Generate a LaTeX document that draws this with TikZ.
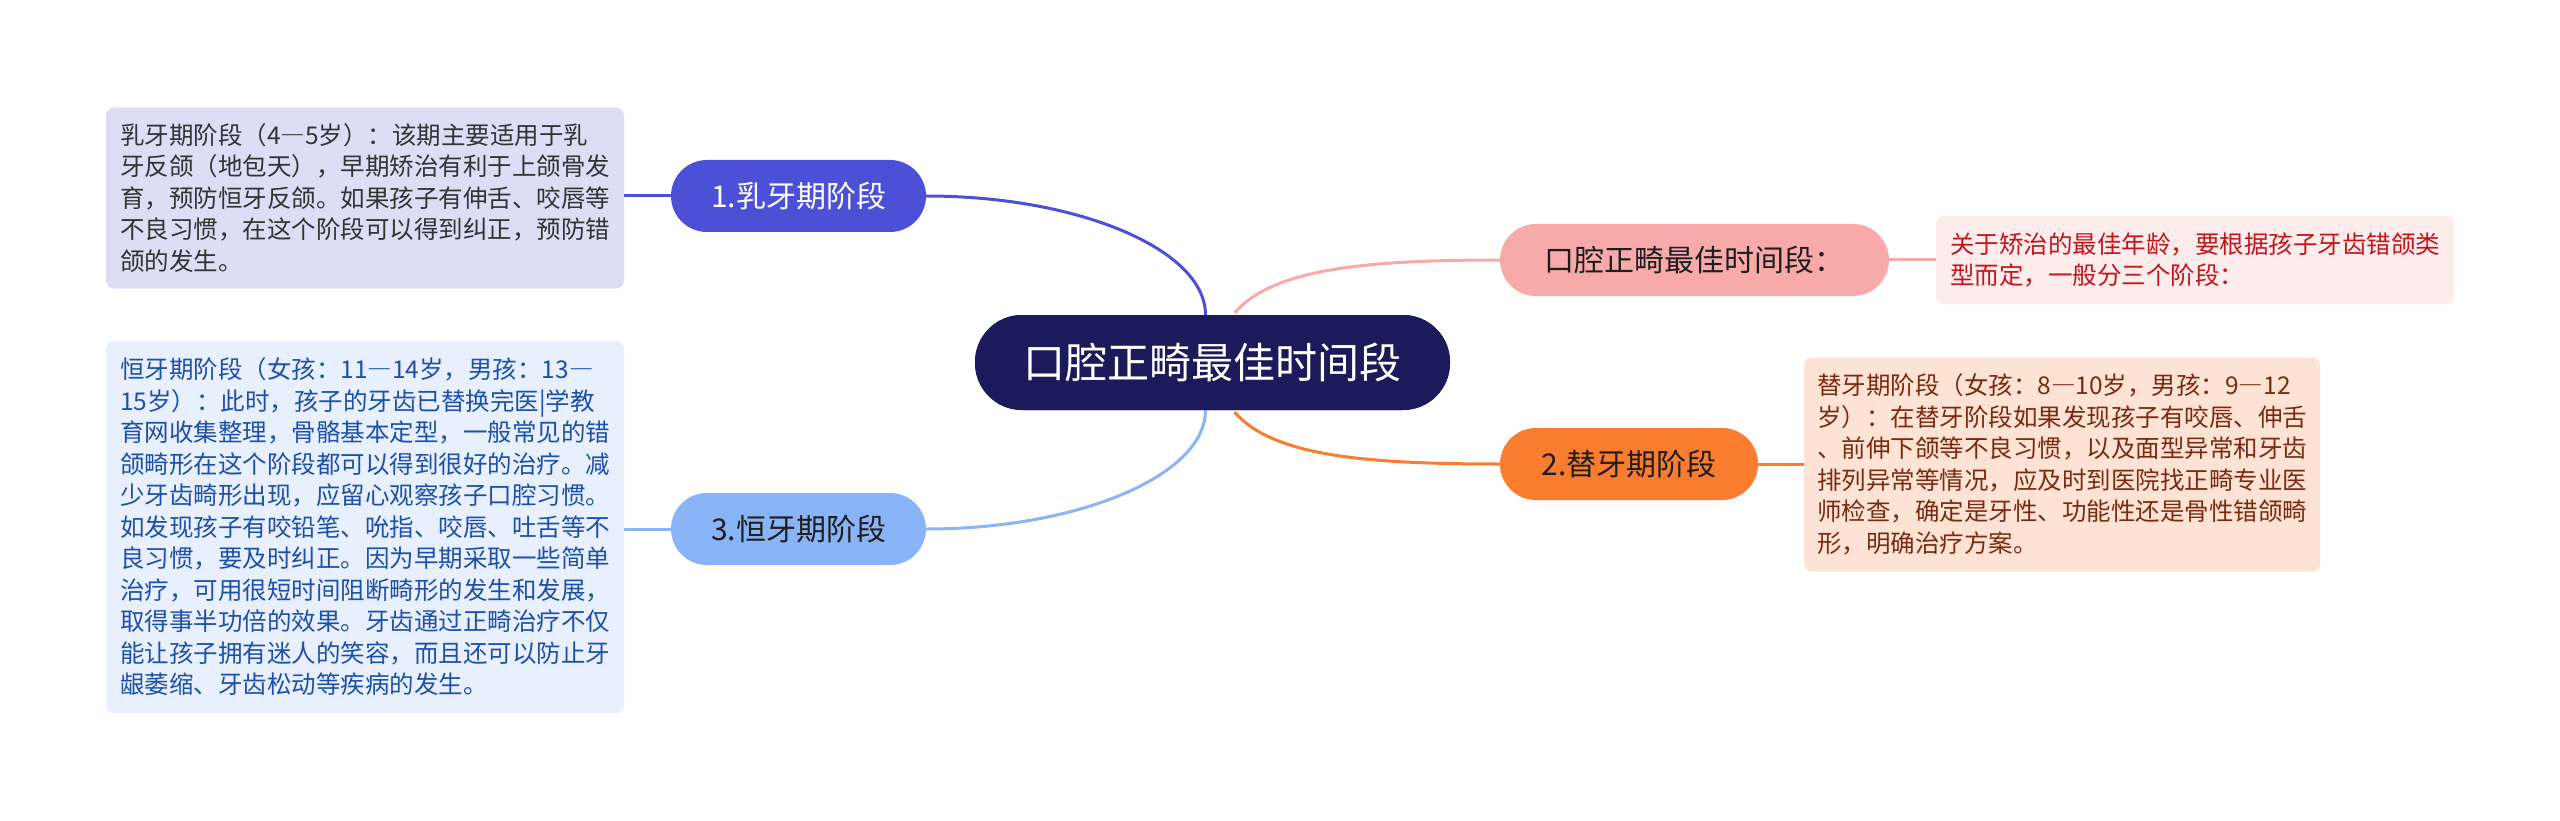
\documentclass[tikz,border=0pt]{standalone}
\usepackage{fontspec}
\setmainfont{Noto Sans CJK SC}
\usetikzlibrary{calc}
\newcommand\fwdash{{\addfontfeature{RawFeature=+fwid}—}}
\definecolor{cnavy}{RGB}{27,26,90}
\definecolor{cviolet}{RGB}{75,80,214}
\definecolor{clblue}{RGB}{138,180,248}
\definecolor{cpink}{RGB}{248,170,170}
\definecolor{corange}{RGB}{249,124,47}
\definecolor{fviolet}{RGB}{221,221,246}
\definecolor{flblue}{RGB}{232,240,253}
\definecolor{fpink}{RGB}{253,236,236}
\definecolor{forange}{RGB}{253,227,212}
\definecolor{tgray}{RGB}{51,51,51}
\definecolor{tblue}{RGB}{30,80,170}
\definecolor{tred}{RGB}{192,22,28}
\definecolor{tbrown}{RGB}{122,42,18}
\definecolor{tdark}{RGB}{30,30,30}
\begin{document}
\begin{tikzpicture}[x=1pt,y=1pt,
  leaf/.style={draw=none, rounded corners=8pt, align=left, inner sep=0pt,
    font=\fontsize{24.5}{31.5}\selectfont, minimum width=518pt},
  branch/.style={rounded corners=36pt, minimum height=72pt, inner sep=0pt,
    font=\fontsize{30}{36}\selectfont},
  hub/.style={fill=cnavy, text=white, rounded corners=47pt, minimum width=475pt,
    minimum height=95pt, inner sep=0pt, font=\fontsize{42}{50}\selectfont},
  link/.style={line width=3pt}
]
\useasboundingbox (0,0) rectangle (2560,-821);
\fill[white] (0,0) rectangle (2560,-821);

% central
\node[hub] (c) at (1212.5,-362.5) {口腔正畸最佳时间段};

% branches
\node[branch, fill=cviolet, text=white, minimum width=255pt] (b1) at (798.5,-196) {1.乳牙期阶段};
\node[branch, fill=clblue, text=tdark, minimum width=255pt] (b3) at (798.5,-529) {3.恒牙期阶段};
\node[branch, fill=cpink, text=tdark, minimum width=389pt] (bp) at (1694.5,-260) {口腔正畸最佳时间段：};
\node[branch, fill=corange, text=tdark, minimum width=258pt] (b2) at (1629,-464) {2.替牙期阶段};

% leaves
\node[leaf, fill=fviolet, text=tgray, minimum height=181pt] (l1) at (365,-198) {%
乳牙期阶段（4\fwdash 5岁）：该期主要适用于乳\\
牙反颌（地包天），早期矫治有利于上颌骨发\\
育，预防恒牙反颌。如果孩子有伸舌、咬唇等\\
不良习惯，在这个阶段可以得到纠正，预防错\\
颌的发生。};

\node[leaf, fill=flblue, text=tblue, minimum height=372pt] (l3) at (365,-527) {%
恒牙期阶段（女孩：11\fwdash 14岁，男孩：13\fwdash\\
15岁）：此时，孩子的牙齿已替换完医|学教\\
育网收集整理，骨骼基本定型，一般常见的错\\
颌畸形在这个阶段都可以得到很好的治疗。减\\
少牙齿畸形出现，应留心观察孩子口腔习惯。\\
如发现孩子有咬铅笔、吮指、咬唇、吐舌等不\\
良习惯，要及时纠正。因为早期采取一些简单\\
治疗，可用很短时间阻断畸形的发生和发展，\\
取得事半功倍的效果。牙齿通过正畸治疗不仅\\
能让孩子拥有迷人的笑容，而且还可以防止牙\\
龈萎缩、牙齿松动等疾病的发生。};

\node[leaf, fill=fpink, text=tred, minimum height=88pt] (lp) at (2195,-260) {%
关于矫治的最佳年龄，要根据孩子牙齿错颌类\\
型而定，一般分三个阶段：};

\node[leaf, fill=forange, text=tbrown, minimum height=214pt, minimum width=516pt] (l2) at (2062,-464.5) {%
替牙期阶段（女孩：8\fwdash 10岁，男孩：9\fwdash 12\\
岁）：在替牙阶段如果发现孩子有咬唇、伸舌\\
、前伸下颌等不良习惯，以及面型异常和牙齿\\
排列异常等情况，应及时到医院找正畸专业医\\
师检查，确定是牙性、功能性还是骨性错颌畸\\
形，明确治疗方案。};

% connectors center -> branches
\draw[link, cviolet] ($(c.north)+(-7,0)$) .. controls ($(c.north)+(-7,65)$) and ($(b1.east)+(153,0)$) .. (b1.east);
\draw[link, clblue] ($(c.south)+(-7,0)$) .. controls ($(c.south)+(-7,-65)$) and ($(b3.east)+(153,0)$) .. (b3.east);
\draw[link, cpink] ($(c.north)+(22,2)$) .. controls ($(c.north)+(60,45)$) and ($(bp.west)+(-140,0)$) .. (bp.west);
\draw[link, corange] ($(c.south)+(22,-2)$) .. controls ($(c.south)+(60,-45)$) and ($(b2.west)+(-140,0)$) .. (b2.west);

% branch -> leaf
\draw[link, cviolet] (b1.west) -- (l1.east |- b1.west);
\draw[link, clblue] (b3.west) -- (l3.east |- b3.west);
\draw[link, cpink] (bp.east) -- (lp.west |- bp.east);
\draw[link, corange] (b2.east) -- (l2.west |- b2.east);

% central node again, on top of the links
\node[hub] (c2) at (c.center) {口腔正畸最佳时间段};
\end{tikzpicture}
\end{document}
